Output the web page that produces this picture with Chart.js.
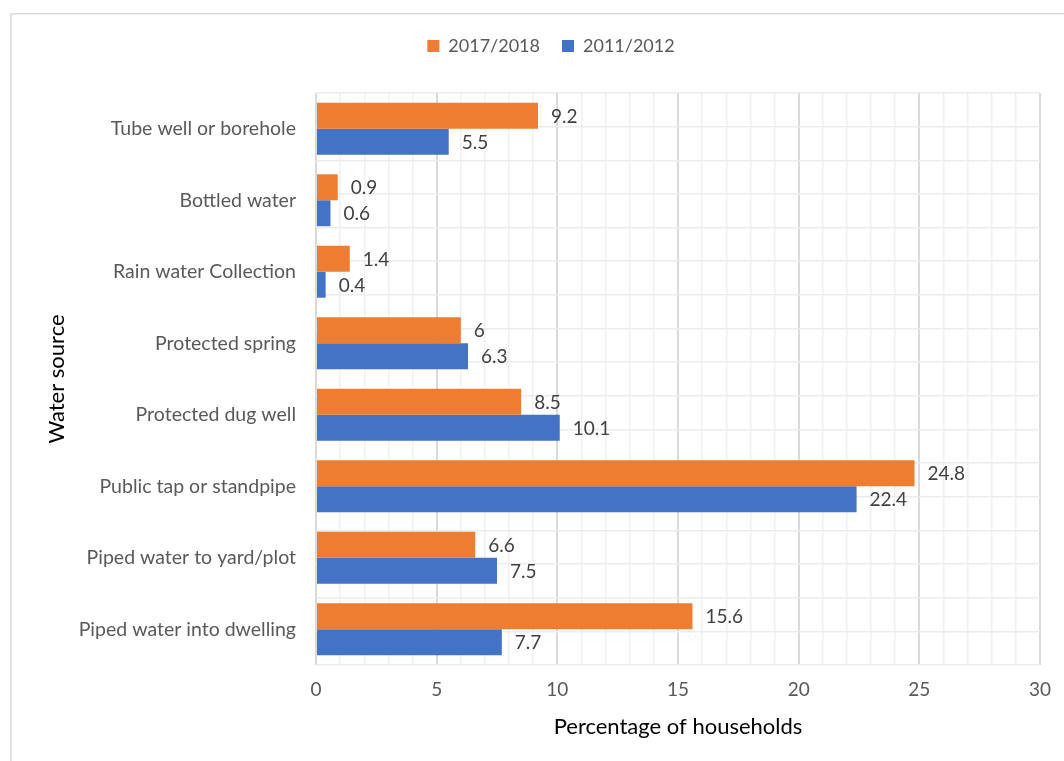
<!DOCTYPE html>
<html>
<head>
<meta charset="utf-8">
<script src="https://cdn.jsdelivr.net/npm/chart.js@4/dist/chart.umd.min.js"></script>
<style>
  html, body { margin: 0; padding: 0; background: #fff; }
  #c { display: block; }
</style>
</head>
<body>
<canvas id="c" width="1064" height="761"></canvas>
<script>
const categories = [
  "Tube well or borehole",
  "Bottled water",
  "Rain water Collection",
  "Protected spring",
  "Protected dug well",
  "Public tap or standpipe",
  "Piped water to yard/plot",
  "Piped water into dwelling"
];
const series2017 = [9.2, 0.9, 1.4, 6, 8.5, 24.8, 6.6, 15.6];
const series2011 = [5.5, 0.6, 0.4, 6.3, 10.1, 22.4, 7.5, 7.7];
const seriesNames = ["2017/2018", "2011/2012"];
const xTicks = [0, 5, 10, 15, 20, 25, 30];

const FONT = "Lato, 'Open Sans', sans-serif";
const PAD_LEFT = 60;

const frame = {
  id: 'frame',
  beforeDraw(chart) {
    const ctx = chart.ctx;
    ctx.save();
    ctx.fillStyle = '#ffffff';
    ctx.fillRect(0, 0, chart.width, chart.height);
    ctx.strokeStyle = '#d9d9d9';
    ctx.lineWidth = 1.5;
    ctx.strokeRect(11, 13.75, 2000, 2000);
    ctx.restore();
  }
};

const valueLabels = {
  id: 'valueLabels',
  afterDatasetsDraw(chart) {
    const ctx = chart.ctx;
    ctx.save();
    ctx.font = "19px " + FONT;
    ctx.fillStyle = '#404040';
    ctx.textAlign = 'left';
    ctx.textBaseline = 'middle';
    chart.data.datasets.forEach((ds, di) => {
      const meta = chart.getDatasetMeta(di);
      meta.data.forEach((bar, i) => {
        ctx.fillText(String(ds.data[i]), bar.x + 13, bar.y + 1);
      });
    });
    ctx.restore();
  }
};

new Chart(document.getElementById('c'), {
  type: 'bar',
  data: {
    labels: categories,
    datasets: [
      { label: seriesNames[0], data: series2017, backgroundColor: '#ED7D31', borderWidth: 0 },
      { label: seriesNames[1], data: series2011, backgroundColor: '#4472C4', borderWidth: 0 }
    ]
  },
  options: {
    indexAxis: 'y',
    responsive: false,
    animation: false,
    devicePixelRatio: 1,
    layout: { padding: { top: 15, right: 22, bottom: 0, left: PAD_LEFT } },
    datasets: { bar: { categoryPercentage: 0.726, barPercentage: 1.0 } },
    plugins: {
      legend: {
        position: 'top',
        align: 'center',
        labels: {
          boxWidth: 12, boxHeight: 12, padding: 22,
          color: '#595959',
          font: { family: FONT, size: 18 }
        }
      },
      tooltip: { enabled: false }
    },
    scales: {
      x: {
        type: 'linear',
        min: 0, max: 30,
        afterFit(s) { s.height = 96; },
        ticks: {
          stepSize: 1,
          autoSkip: false,
          maxRotation: 0,
          padding: 13,
          color: '#595959',
          font: { family: FONT, size: 19 },
          callback: (v) => xTicks.includes(v) ? String(v) : ''
        },
        grid: {
          drawTicks: false,
          color: (c) => (c.tick && c.tick.value % 5 === 0) ? '#d9d9d9' : '#f0f0f0',
          lineWidth: (c) => (c.tick && c.tick.value % 5 === 0) ? 2 : 1.5
        },
        border: { display: false },
        title: {
          display: true,
          text: 'Percentage of households',
          color: '#000000',
          font: { family: FONT, size: 22 },
          padding: { top: 0, bottom: 21 }
        }
      },
      xTop: {
        type: 'linear',
        position: 'top',
        min: 0, max: 1,
        afterFit(s) { s.height = 28; },
        ticks: { display: false },
        grid: { display: false, drawTicks: false },
        border: { display: false }
      },
      y: {
        type: 'category',
        position: 'left',
        afterFit(s) { s.width = 316 - PAD_LEFT; },
        ticks: {
          padding: 20,
          color: '#595959',
          font: { family: FONT, size: 19.5 }
        },
        grid: { display: false, drawTicks: false },
        border: { display: false },
        title: {
          display: true,
          text: 'Water source',
          color: '#000000',
          font: { family: FONT, size: 22 },
          padding: { top: 44 - PAD_LEFT, bottom: 0 }
        }
      },
      yg: {
        type: 'linear',
        position: 'left',
        min: -0.5, max: 7.5,
        afterFit(s) { s.width = 0; },
        ticks: { display: false, stepSize: 0.5 },
        grid: { color: '#ececec', lineWidth: 1.5, drawTicks: false },
        border: { display: false }
      }
    }
  },
  plugins: [frame, valueLabels]
});
</script>
</body>
</html>
